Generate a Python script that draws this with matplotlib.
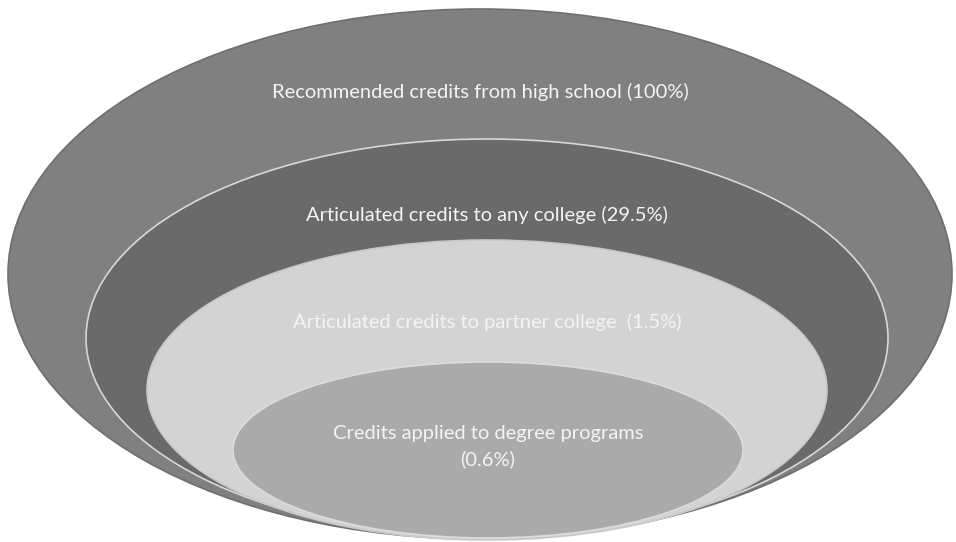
import matplotlib.pyplot as plt
from matplotlib.patches import Ellipse

# data
labels = [
    "Recommended credits from high school",
    "Articulated credits to any college",
    "Articulated credits to partner college ",
    "Credits applied to degree programs\n",
]
shares = ["100%", "29.5%", "1.5%", "0.6%"]

# layout (pixel coords, y down): center x, center y, width, height
rings = [
    (480, 274, 944, 530),
    (487, 338, 802, 398),
    (487, 390, 680, 300),
    (488, 450, 510, 176),
]
fills = ["#808080", "#6a6a6a", "#d3d3d3", "#aaaaaa"]
edges = ["#6f6f6f", "#d8d8d8", "#c8c8c8", "#dcdcdc"]
text_y = [92, 215, 322, 447]

plt.rcParams["font.family"] = ["Lato", "DejaVu Sans"]

fig = plt.figure(figsize=(9.56, 5.42), dpi=100)
ax = fig.add_axes([0, 0, 1, 1])
ax.set_xlim(0, 956)
ax.set_ylim(542, 0)
ax.axis("off")

for (cx, cy, w, h), fc, ec in zip(rings, fills, edges):
    ax.add_patch(Ellipse((cx, cy), w, h, facecolor=fc, edgecolor=ec, lw=1.2))

for (cx, _, _, _), lab, pct, ty in zip(rings, labels, shares, text_y):
    sep = "" if lab.endswith("\n") else " "
    ax.text(cx, ty, f"{lab}{sep}({pct})", ha="center", va="center",
            fontsize=14.5, color="#f4f4f4", linespacing=1.55)

fig.savefig("out.png", dpi=100)
